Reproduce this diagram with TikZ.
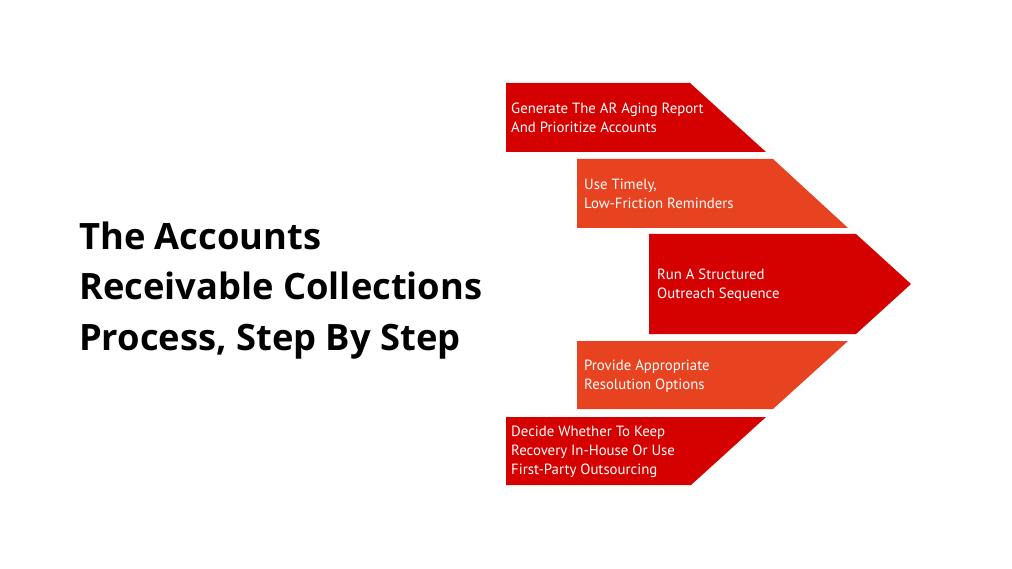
\documentclass[tikz,border=0pt]{standalone}
\usepackage{fontspec}
\setmainfont{PT Sans}
\newfontfamily\titlefont{Open Sans}
\definecolor{stepred}{HTML}{D50000}
\definecolor{steporange}{HTML}{E84321}
\begin{document}
\begin{tikzpicture}[x=1pt,y=-1pt,
  steptext/.style={anchor=west,inner sep=0pt,align=left,text=white,
    font=\fontsize{14.8}{19}\selectfont},
  titletext/.style={anchor=base west,inner sep=0pt,
    font=\titlefont\bfseries\fontsize{36.3}{44}\selectfont}]
\useasboundingbox[fill=white] (0,0) rectangle (1012,569);
% shapes
\fill[stepred] (506,83) -- (690,83) -- (766,152) -- (506,152) -- cycle;
\fill[steporange] (577,159) -- (773,159) -- (848,228) -- (577,228) -- cycle;
\fill[stepred] (649,234) -- (856,234) -- (911,284) -- (856,334) -- (649,334) -- cycle;
\fill[steporange] (577,341) -- (848,341) -- (773,409) -- (577,409) -- cycle;
\fill[stepred] (506,417) -- (766,417) -- (691,485) -- (506,485) -- cycle;
% texts
\node[steptext] (s1) at (511,117.5) {Generate The AR Aging Report\\And Prioritize Accounts};
\node[steptext] (s2) at (584,193.5) {Use Timely,\\Low-Friction Reminders};
\node[steptext] (s3) at (657,285) {Run A Structured\\Outreach Sequence};
\node[steptext] (s4) at (584,376) {Provide Appropriate\\Resolution Options};
\node[steptext] (s5) at (511,452) {Decide Whether To Keep\\Recovery In-House Or Use\\First-Party Outsourcing};
\node[titletext] (title1) at (79,250) {The Accounts};
\node[titletext] (title2) at (79,300) {Receivable Collections};
\node[titletext] (title3) at (79,350) {Process, Step By Step};
\end{tikzpicture}
\end{document}
